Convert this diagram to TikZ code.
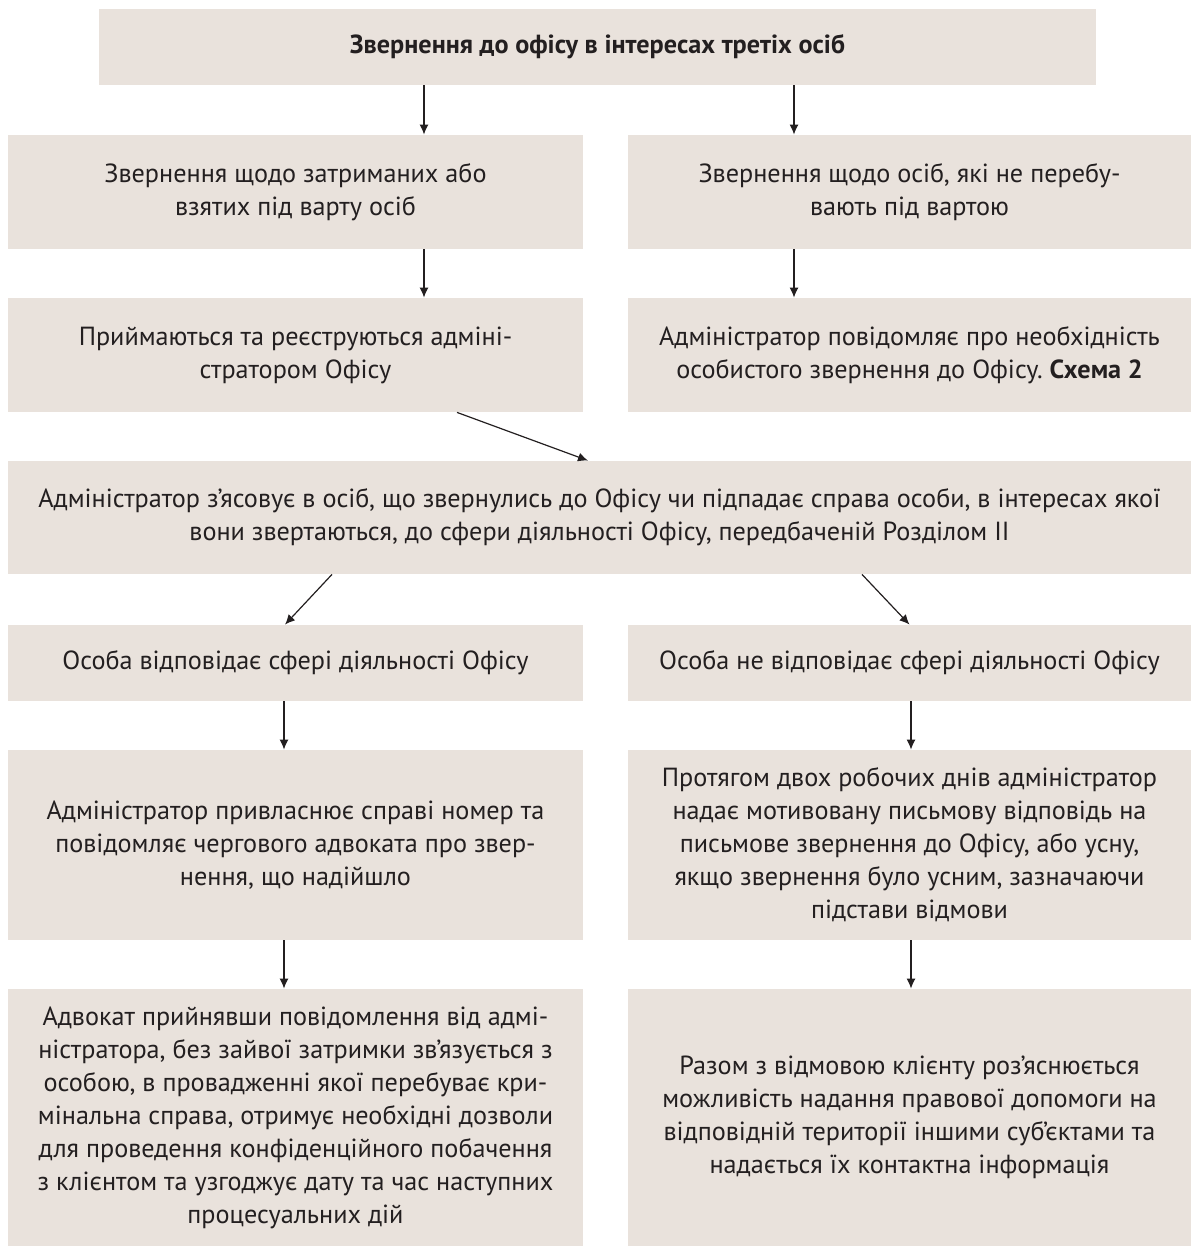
\documentclass[tikz,border=0pt]{standalone}
\usepackage{fontspec}
\setmainfont{PT Sans}
\usetikzlibrary{positioning,arrows.meta}
\definecolor{boxfill}{HTML}{E9E2DC}
\definecolor{ink}{HTML}{231F20}
\frenchspacing

\begin{document}
\begin{tikzpicture}[
x=0.5pt, y=-0.5pt,
stage/.style={rectangle, fill=boxfill, text=ink, align=center, inner sep=0pt, font=\fontsize{13.1}{16.5}\selectfont},
left_col/.style={stage, minimum width=287.5pt},
right_col/.style={stage, minimum width=281.5pt},
flow/.style={draw=ink, line width=0.6pt, -{Latex[length=5pt,width=4.5pt]}}
]
\useasboundingbox (0,0) rectangle (1191,1248);

\node[stage, minimum width=498.5pt, minimum height=38pt](req_top) at (597.5,47) {\textbf{Звернення до офісу в інтересах третіх осіб}};

\node[left_col, minimum height=57pt](req_held) at (295.5,192) {Звернення щодо затриманих або\\взятих під варту осіб};
\node[right_col, minimum height=57pt](req_free) at (909.5,192) {Звернення щодо осіб, які не перебу-\\вають під вартою};

\node[left_col, minimum height=57pt](reg_held) at (295.5,355) {Приймаються та реєструються адміні-\\стратором Офісу};
\node[right_col, minimum height=57pt](notify_free) at (909.5,355) {Адміністратор повідомляє про необхідність\\особистого звернення до Офісу. \textbf{Схема 2}};

\node[stage, minimum width=591.5pt, minimum height=56.5pt](check) at (599.5,517.5) {Адміністратор з’ясовує в осіб, що звернулись до Офісу чи підпадає справа особи, в інтересах якої\\вони звертаються, до сфери діяльності Офісу, передбаченій Розділом II};

\node[left_col, minimum height=38pt](fits) at (295.5,663) {Особа відповідає сфері діяльності Офісу};
\node[right_col, minimum height=38pt](no_fits) at (909.5,663) {Особа не відповідає сфері діяльності Офісу};

\node[left_col, minimum height=95pt](assign) at (295.5,845) {Адміністратор привласнює справі номер та\\повідомляє чергового адвоката про звер-\\нення, що надійшло};
\node[right_col, minimum height=95pt](reply) at (909.5,845) {Протягом двох робочих днів адміністратор\\надає мотивовану письмову відповідь на\\письмове звернення до Офісу, або усну,\\якщо звернення було усним, зазначаючи\\підстави відмови};

\node[left_col, minimum height=128.5pt](lawyer) at (295.5,1117.5) {Адвокат прийнявши повідомлення від адмі-\\ністратора, без зайвої затримки зв’язується з\\особою, в провадженні якої перебуває кри-\\мінальна справа, отримує необхідні дозволи\\для проведення конфіденційного побачення\\з клієнтом та узгоджує дату та час наступних\\процесуальних дій};
\node[right_col, minimum height=128.5pt](explain) at (909.5,1117.5) {Разом з відмовою клієнту роз’яснюється\\можливість надання правової допомоги на\\відповідній території іншими суб’єктами та\\надається їх контактна інформація};

% connectors
\draw[flow] ([xshift=-86.75pt]req_top.south) -- ([xshift=-86.75pt]req_top.south |- req_held.north);
\draw[flow] ([xshift=98.25pt]req_top.south) -- ([xshift=98.25pt]req_top.south |- req_free.north);
\draw[flow] ([xshift=64.25pt]req_held.south) -- ([xshift=64.25pt]reg_held.north);
\draw[flow] ([xshift=-57.75pt]req_free.south) -- ([xshift=-57.75pt]notify_free.north);
\draw[flow] ([xshift=80.75pt]reg_held.south) -- ([xshift=-5.75pt]check.north);
\draw[flow] ([xshift=-133.75pt]check.south) -- ([xshift=-5.25pt]fits.north);
\draw[flow] ([xshift=131.25pt]check.south) -- (no_fits.north);
\draw[flow] ([xshift=-5.75pt]fits.south) -- ([xshift=-5.75pt]assign.north);
\draw[flow] ([xshift=0.75pt]no_fits.south) -- ([xshift=0.75pt]reply.north);
\draw[flow] ([xshift=-5.75pt]assign.south) -- ([xshift=-5.75pt]lawyer.north);
\draw[flow] ([xshift=0.75pt]reply.south) -- ([xshift=0.75pt]explain.north);
\end{tikzpicture}
\end{document}
